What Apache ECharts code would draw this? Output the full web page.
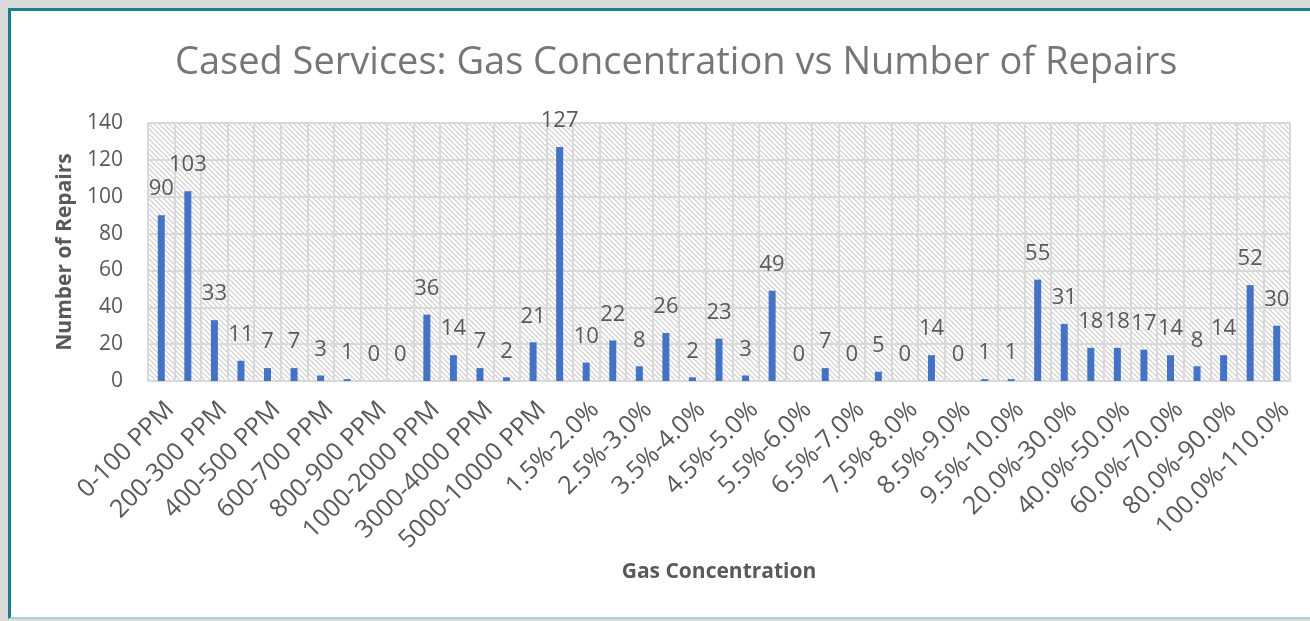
<!DOCTYPE html>
<html>
<head>
<meta charset="utf-8">
<script src="https://cdn.jsdelivr.net/npm/echarts@6/dist/echarts.min.js"></script>
<style>
    html, body {margin: 0; padding: 0; background: #d9d9d9;}
    #frame {position: absolute; left: 8px; top: 8px; width: 1302px; height: 611px;
        background: #fff; border-left: 3px solid #1b7f8c; border-top: 3px solid #1b7f8c;
        border-bottom: 2px solid #a9d2e2; box-sizing: border-box;}
    #main {position: absolute; left: 0; top: 0; width: 1310px; height: 621px;}
</style>
</head>
<body>
<div id="frame"></div>
<div id="main"></div>
<script>
const categories = [
    '0-100 PPM', '100-200 PPM', '200-300 PPM', '300-400 PPM', '400-500 PPM',
    '500-600 PPM', '600-700 PPM', '700-800 PPM', '800-900 PPM', '900-1000 PPM',
    '1000-2000 PPM', '2000-3000 PPM', '3000-4000 PPM', '4000-5000 PPM', '5000-10000 PPM',
    '1.0%-1.5%', '1.5%-2.0%', '2.0%-2.5%', '2.5%-3.0%', '3.0%-3.5%', '3.5%-4.0%',
    '4.0%-4.5%', '4.5%-5.0%', '5.0%-5.5%', '5.5%-6.0%', '6.0%-6.5%', '6.5%-7.0%',
    '7.0%-7.5%', '7.5%-8.0%', '8.0%-8.5%', '8.5%-9.0%', '9.0%-9.5%', '9.5%-10.0%',
    '10.0%-20.0%', '20.0%-30.0%', '30.0%-40.0%', '40.0%-50.0%', '50.0%-60.0%',
    '60.0%-70.0%', '70.0%-80.0%', '80.0%-90.0%', '90.0%-100.0%', '100.0%-110.0%'
]
const repairs = [
    90, 103, 33, 11, 7, 7, 3, 1, 0, 0,
    36, 14, 7, 2, 21,
    127, 10, 22, 8, 26, 2, 23, 3, 49, 0, 7, 0, 5, 0, 14, 0, 1, 1,
    55, 31, 18, 18, 17, 14, 8, 14, 52, 30
]
const yTicks = {min: 0, max: 140, interval: 20}

// diagonal hatch used behind the plot
const hatch = document.createElement('canvas')
hatch.width = 5
hatch.height = 5
const ctx = hatch.getContext('2d')
ctx.fillStyle = '#fff'
ctx.fillRect(0, 0, 5, 5)
ctx.strokeStyle = '#cdcdcd'
ctx.lineWidth = 1.2
ctx.beginPath()
ctx.moveTo(-1, -1); ctx.lineTo(6, 6)
ctx.moveTo(-1, 4); ctx.lineTo(1, 6)
ctx.moveTo(4, -1); ctx.lineTo(6, 1)
ctx.stroke()

const myChart = echarts.init(document.getElementById('main'))
const grey = '#595959'
const font = '"Open Sans", "Liberation Sans", sans-serif'

const option = {
    backgroundColor: 'transparent',
    textStyle: {fontFamily: font},
    title: {
        text: 'Cased Services: Gas Concentration vs Number of Repairs',
        left: 170,
        top: 39,
        textStyle: {fontFamily: font, fontSize: 38, fontWeight: 'normal', color: '#767676'}
    },
    grid: {
        left: 148, right: 20, top: 123, bottom: 240,
        show: true,
        backgroundColor: {image: hatch, repeat: 'repeat'},
        borderColor: '#d9d9d9',
        borderWidth: 2
    },
    xAxis: {
        type: 'category',
        data: categories,
        name: 'Gas Concentration',
        nameLocation: 'middle',
        nameGap: 181,
        nameTextStyle: {fontFamily: font, fontSize: 21, fontWeight: 'bold', color: grey},
        axisLine: {lineStyle: {color: '#d9d9d9', width: 2}},
        axisTick: {show: false},
        axisLabel: {
            interval: 1, rotate: 45, fontSize: 25, color: grey, margin: 16,
            verticalAlign: 'top', fontFamily: font
        },
        splitLine: {show: true, interval: 0, lineStyle: {color: '#d9d9d9', width: 2}}
    },
    yAxis: {
        type: 'value',
        min: yTicks.min,
        max: yTicks.max,
        interval: yTicks.interval,
        name: 'Number of Repairs',
        nameLocation: 'middle',
        nameGap: 72,
        nameTextStyle: {fontFamily: font, fontSize: 21, fontWeight: 'bold', color: grey},
        axisLine: {show: false},
        axisTick: {show: false},
        axisLabel: {fontSize: 21, color: grey, margin: 25, fontFamily: font},
        splitLine: {lineStyle: {color: '#d9d9d9', width: 2}}
    },
    series: [{
        type: 'bar',
        data: repairs,
        barWidth: 7,
        itemStyle: {color: '#4472c4'},
        label: {
            show: true,
            position: 'top',
            distance: 15,
            fontSize: 22,
            color: grey,
            fontFamily: font
        }
    }]
}

option && myChart.setOption(option)
</script>
</body>
</html>
